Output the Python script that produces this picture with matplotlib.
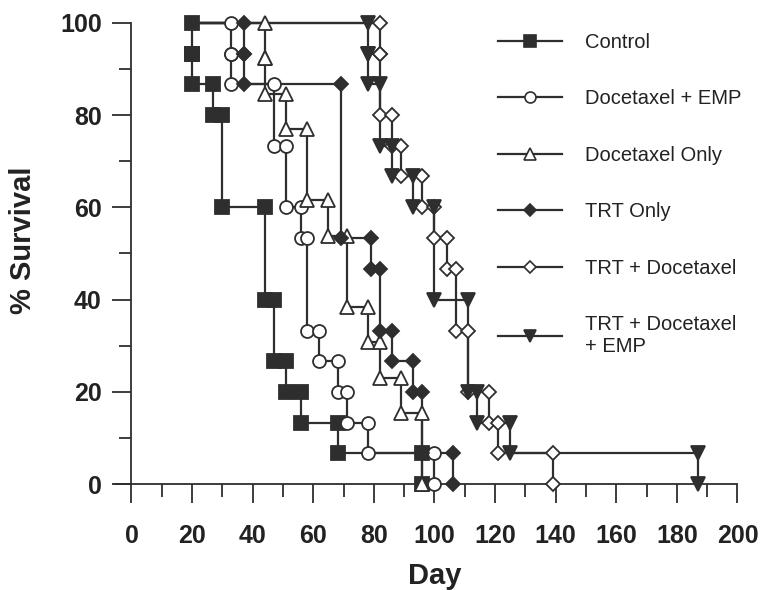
import matplotlib
matplotlib.use("Agg")
import matplotlib.pyplot as plt
from matplotlib.ticker import MultipleLocator

plt.rcParams["font.family"] = ["Liberation Sans", "DejaVu Sans"]

START_DAY = 20
INK = "#2e2e2e"

labels = [
    "Control",
    "Docetaxel + EMP",
    "Docetaxel Only",
    "TRT Only",
    "TRT + Docetaxel",
    "TRT + Docetaxel\n+ EMP",
]

# event day / % survival after the event
control_days = [20, 20, 27, 30, 44, 47, 51, 56, 68, 96]
control_surv = [93.3, 86.7, 80, 60, 40, 26.7, 20, 13.3, 6.7, 0]

doc_emp_days = [33, 33, 47, 51, 56, 58, 62, 68, 71, 78, 100]
doc_emp_surv = [93.3, 86.7, 73.3, 60, 53.3, 33.3, 26.7, 20, 13.3, 6.7, 0]

doc_days = [44, 44, 51, 58, 65, 71, 78, 82, 89, 96]
doc_surv = [92.3, 84.6, 76.9, 61.5, 53.8, 38.5, 30.8, 23.1, 15.4, 0]

trt_days = [37, 37, 69, 79, 82, 86, 93, 96, 106]
trt_surv = [93.3, 86.7, 53.3, 46.7, 33.3, 26.7, 20, 6.7, 0]

trt_doc_days = [82, 82, 86, 89, 96, 100, 104, 107, 111, 118, 121, 139]
trt_doc_surv = [93.3, 80, 73.3, 66.7, 60, 53.3, 46.7, 33.3, 20, 13.3, 6.7, 0]

trt_doc_emp_days = [78, 78, 82, 86, 93, 100, 111, 114, 125, 187]
trt_doc_emp_surv = [93.3, 86.7, 73.3, 66.7, 60, 40, 20, 13.3, 6.7, 0]

all_days = [control_days, doc_emp_days, doc_days, trt_days, trt_doc_days, trt_doc_emp_days]
all_surv = [control_surv, doc_emp_surv, doc_surv, trt_surv, trt_doc_surv, trt_doc_emp_surv]

# marker, size, face
styles = [
    ("s", 9.8, INK),
    ("o", 9.3, "white"),
    ("^", 9.8, "white"),
    ("D", 6.8, INK),
    ("D", 7.0, "white"),
    ("v", 10.3, INK),
]


def km_steps(days, surv, start=START_DAY):
    xs, ys = [start], [100.0]
    mx, my = [], []
    level = 100.0
    for d, s in zip(days, surv):
        xs += [d, d]
        ys += [level, s]
        mx += [d, d]
        my += [level, s]
        level = s
    return xs, ys, mx, my


fig = plt.figure(figsize=(7.62, 5.90), dpi=100)
ax = fig.add_axes([0.1507, 0.1792, 0.8171, 0.7823])

for days, surv, (mk, ms, face), lab in zip(all_days, all_surv, styles, labels):
    xs, ys, mx, my = km_steps(days, surv)
    ax.plot(xs, ys, color=INK, lw=1.6, zorder=2, clip_on=False)
    ax.plot(mx, my, ls="none", marker=mk, ms=ms, mfc=face, mec=INK,
            mew=1.3, zorder=3, clip_on=False)
    ax.plot([], [], color=INK, lw=1.6, marker=mk, ms=ms * 0.85,
            mfc=face, mec=INK, mew=1.2, label=lab)

ax.set_xlim(-5.5, 200)
ax.set_ylim(0, 100)
ax.spines["top"].set_visible(False)
ax.spines["right"].set_visible(False)
ax.spines["left"].set_position(("data", 0))
for sp in ("left", "bottom"):
    ax.spines[sp].set_linewidth(1.3)
    ax.spines[sp].set_color(INK)

ax.xaxis.set_major_locator(MultipleLocator(20))
ax.xaxis.set_minor_locator(MultipleLocator(10))
ax.yaxis.set_major_locator(MultipleLocator(20))
ax.yaxis.set_minor_locator(MultipleLocator(10))
ax.tick_params(which="major", direction="out", length=13.5, width=1.3,
               color=INK, labelsize=18, labelcolor="#222222")
ax.tick_params(which="minor", direction="out", length=9, width=1.3, color=INK)
ax.tick_params(axis="x", which="major", pad=15)
ax.tick_params(axis="y", which="major", pad=8)
for t in ax.get_xticklabels() + ax.get_yticklabels():
    t.set_fontweight("bold")

fig.text(23 / 762, 1 - 240 / 590, "% Survival", rotation=90, ha="center",
         va="center", fontsize=21, fontweight="bold", color="#222222")
fig.text(435 / 762, 1 - 584 / 590, "Day", ha="center", va="baseline",
         fontsize=21, fontweight="bold", color="#222222")

leg = ax.legend(loc="upper left", bbox_to_anchor=(498 / 762, 1 - 33 / 590),
                bbox_transform=fig.transFigure, frameon=False, fontsize=14.5,
                handlelength=3.2, handletextpad=1.1, labelspacing=1.86,
                borderpad=0, borderaxespad=0, numpoints=1)
for t in leg.get_texts():
    t.set_color("#222222")

fig.savefig("out.png", dpi=100)
